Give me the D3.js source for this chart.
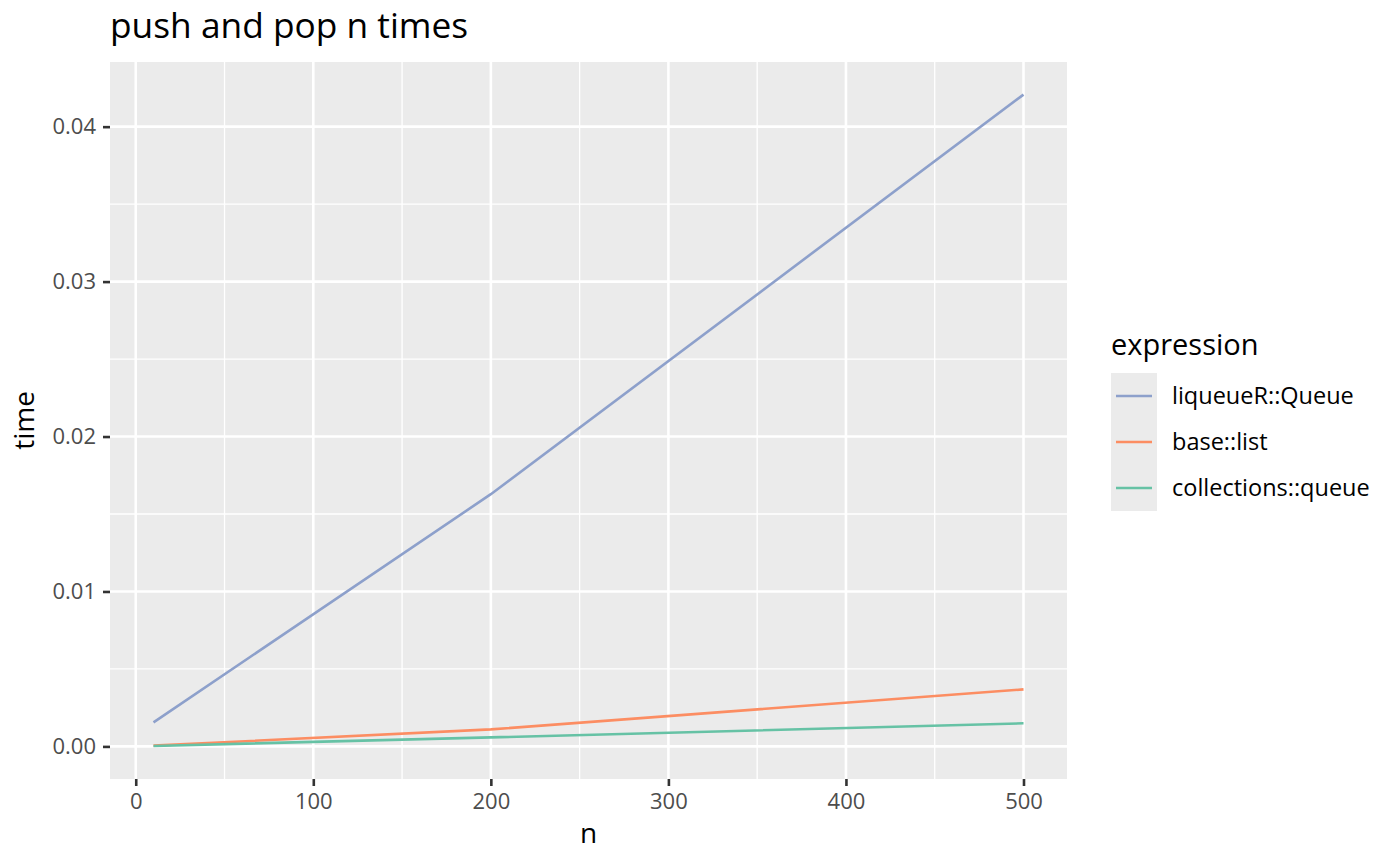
<!DOCTYPE html>
<html>
<head>
<meta charset="utf-8">
<script src="https://cdn.jsdelivr.net/npm/d3@7"></script>
<style>
  body { margin: 0; background: #fff; }
  text { font-family: "Open Sans", "Noto Sans", sans-serif; }
</style>
</head>
<body>
<div id="chart"></div>
<script>
// data
var nValues = [10, 200, 500];
var seriesNames = ["liqueueR::Queue", "base::list", "collections::queue"];
var queueTimes = [0.00155, 0.01628, 0.04207];
var listTimes = [0.00005, 0.00110, 0.00368];
var collTimes = [0.00003, 0.00058, 0.00149];
var seriesColors = ["#8DA0CB", "#FC8D62", "#66C2A5"];
var xTicks = [0, 100, 200, 300, 400, 500];
var xMinor = [50, 150, 250, 350, 450];
var yTicks = [0, 0.01, 0.02, 0.03, 0.04];
var yMinor = [0.005, 0.015, 0.025, 0.035];

var width = 1400, height = 865;
var panel = {left: 110, right: 1067, top: 62, bottom: 779};

var svg = d3.select("#chart")
  .append("svg")
  .attr("width", width)
  .attr("height", height);

// 5% padding either side, like ggplot
var x = d3.scaleLinear()
  .domain([10 - 24.5, 500 + 24.5])
  .range([panel.left, panel.right]);
var y = d3.scaleLinear()
  .domain([-0.0021035, 0.042070 + 0.0021035])
  .range([panel.bottom, panel.top]);

// panel background
svg.append("rect")
  .attr("x", panel.left).attr("y", panel.top)
  .attr("width", panel.right - panel.left)
  .attr("height", panel.bottom - panel.top)
  .attr("fill", "#EBEBEB");

// minor grid
svg.selectAll(".xminor").data(xMinor).enter().append("line")
  .attr("x1", d => x(d)).attr("x2", d => x(d))
  .attr("y1", panel.top).attr("y2", panel.bottom)
  .attr("stroke", "#fff").attr("stroke-width", 1.3);
svg.selectAll(".yminor").data(yMinor).enter().append("line")
  .attr("y1", d => y(d)).attr("y2", d => y(d))
  .attr("x1", panel.left).attr("x2", panel.right)
  .attr("stroke", "#fff").attr("stroke-width", 1.3);

// major grid
svg.selectAll(".xmajor").data(xTicks).enter().append("line")
  .attr("x1", d => x(d)).attr("x2", d => x(d))
  .attr("y1", panel.top).attr("y2", panel.bottom)
  .attr("stroke", "#fff").attr("stroke-width", 2.6);
svg.selectAll(".ymajor").data(yTicks).enter().append("line")
  .attr("y1", d => y(d)).attr("y2", d => y(d))
  .attr("x1", panel.left).attr("x2", panel.right)
  .attr("stroke", "#fff").attr("stroke-width", 2.6);

// axes
var xAxis = svg.append("g")
  .attr("transform", "translate(0," + panel.bottom + ")")
  .call(d3.axisBottom(x).tickValues(xTicks).tickSize(7).tickPadding(7).tickFormat(d3.format("d")));
var yAxis = svg.append("g")
  .attr("transform", "translate(" + panel.left + ",0)")
  .call(d3.axisLeft(y).tickValues(yTicks).tickSize(7).tickPadding(7).tickFormat(d3.format(".2f")));
[xAxis, yAxis].forEach(function(a) {
  a.select(".domain").remove();
  a.selectAll(".tick line").attr("stroke", "#333").attr("stroke-width", 2.6);
  a.selectAll(".tick text").attr("fill", "#4D4D4D").style("font-size", "22px")
    .style("font-family", "'Open Sans', 'Noto Sans', sans-serif");
});

// lines
var allSeries = [queueTimes, listTimes, collTimes];
var line = d3.line()
  .x(function(d, i) { return x(nValues[i]); })
  .y(function(d) { return y(d); });
svg.selectAll(".series").data(allSeries).enter().append("path")
  .attr("d", d => line(d))
  .attr("fill", "none")
  .attr("stroke", (d, i) => seriesColors[i])
  .attr("stroke-width", 2.6);

// titles
svg.append("text")
  .attr("x", 110).attr("y", 38)
  .style("font-size", "35.3px").attr("fill", "#000")
  .text("push and pop n times");
svg.append("text")
  .attr("x", (panel.left + panel.right) / 2).attr("y", 843)
  .attr("text-anchor", "middle")
  .style("font-size", "28px")
  .text("n");
svg.append("text")
  .attr("transform", "translate(34," + ((panel.top + panel.bottom) / 2) + ") rotate(-90)")
  .attr("text-anchor", "middle")
  .style("font-size", "28px")
  .text("time");

// legend
var legend = svg.append("g").attr("transform", "translate(1111,0)");
legend.append("text")
  .attr("x", 0).attr("y", 355)
  .style("font-size", "29px")
  .text("expression");
legend.append("rect")
  .attr("x", 0).attr("y", 373)
  .attr("width", 46).attr("height", 138)
  .attr("fill", "#EBEBEB");
var items = legend.selectAll(".item").data(seriesNames).enter().append("g")
  .attr("transform", (d, i) => "translate(0," + (396 + i * 46) + ")");
items.append("line")
  .attr("x1", 5).attr("x2", 41)
  .attr("stroke", (d, i) => seriesColors[i])
  .attr("stroke-width", 2.6);
items.append("text")
  .attr("x", 61).attr("y", 0)
  .attr("dy", "0.35em")
  .style("font-size", "23.5px")
  .text(d => d);
</script>
</body>
</html>
